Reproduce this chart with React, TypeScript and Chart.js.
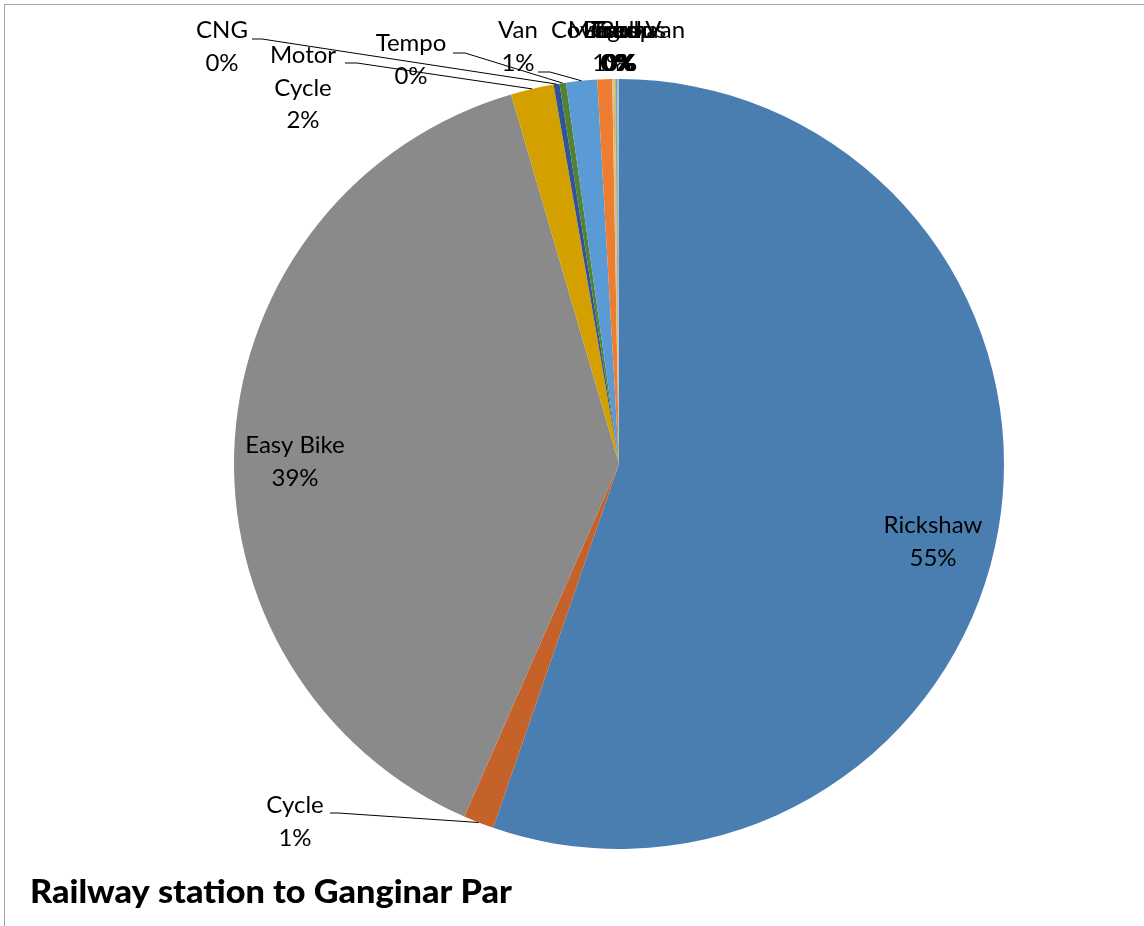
import React, { useEffect, useRef } from "react";
import { Chart, registerables } from "chart.js";

Chart.register(...registerables);

const categories = [
  "Rickshaw", "Cycle", "Easy Bike", "Motor Cycle", "CNG", "Tempo", "Van",
  "Car", "Microbus", "Pickup", "Bus", "Truck", "Leguna", "Covered Van",
];
const shares = [55.3, 1.28, 38.9, 1.8, 0.25, 0.27, 1.3, 0.62, 0.05, 0.04, 0.04, 0.04, 0.03, 0.08];
const sliceColors = [
  "#4A7EB1", "#C5622A", "#8A8A8A", "#D4A000", "#2F5597", "#548235", "#5B9BD5",
  "#ED7D31", "#EDB58A", "#A5A5A5", "#FFC000", "#70AD47", "#4472C4", "#A9BCE0",
];
const titleText = "Railway station to Ganginar Par";

// label layout (styling only): mode, offsets relative to pie centre / slice edge
type Lay = { mode: "center" | "top"; dx: number; dy: number; wrap?: boolean; lead?: [number, number, number] };
const labelLayout: Lay[] = [
  { mode: "center", dx: 314, dy: 78 },
  { mode: "center", dx: -324, dy: 358, lead: [35, -9, 8] },
  { mode: "center", dx: -324, dy: -2 },
  { mode: "center", dx: -316, dy: -376, wrap: true, lead: [42, -25, 12] },
  { mode: "center", dx: -397, dy: -417, lead: [30, -8, 10] },
  { mode: "center", dx: -208, dy: -404, lead: [42, -7, 12] },
  { mode: "center", dx: -101, dy: -417, lead: [20, 25, 12] },
  { mode: "top", dx: 4, dy: -417 },
  { mode: "top", dx: 4, dy: -417 },
  { mode: "top", dx: 4, dy: -417 },
  { mode: "top", dx: 4, dy: -417 },
  { mode: "top", dx: 4, dy: -417 },
  { mode: "top", dx: 4, dy: -417 },
  { mode: "top", dx: 0, dy: -417 },
];

const framePlugin = {
  id: "frame",
  beforeDraw(chart: any) {
    const ctx = chart.ctx;
    ctx.save();
    ctx.fillStyle = "#FFFFFF";
    ctx.fillRect(0, 0, chart.width, chart.height);
    ctx.strokeStyle = "#A6A6A6";
    ctx.lineWidth = 1;
    ctx.strokeRect(4.5, 4.5, chart.width + 20, chart.height + 20);
    ctx.restore();
  },
};

const labelPlugin = {
  id: "sliceLabels",
  afterDatasetsDraw(chart: any) {
    const ctx = chart.ctx;
    const meta = chart.getDatasetMeta(0);
    const values = chart.data.datasets[0].data as number[];
    const total = values.reduce((a, b) => a + b, 0);
    const lh = 32.5;
    ctx.save();
    ctx.font = "24px Lato";
    ctx.fillStyle = "#000000";
    ctx.strokeStyle = "#000000";
    ctx.lineWidth = 1;
    ctx.textAlign = "center";
    ctx.textBaseline = "middle";
    meta.data.forEach((arc: any, i: number) => {
      const p = arc.getProps(["x", "y", "startAngle", "endAngle", "outerRadius"], true);
      const mid = (p.startAngle + p.endAngle) / 2;
      const ex = p.x + Math.cos(mid) * p.outerRadius;
      const ey = p.y + Math.sin(mid) * p.outerRadius;
      const lay = labelLayout[i];
      const pct = Math.round((values[i] / total) * 100) + "%";
      const name = chart.data.labels[i] as string;
      const lines = lay.wrap ? [...name.split(" "), pct] : [name, pct];
      const cx = lay.mode === "top" ? ex + lay.dx : p.x + lay.dx;
      const cy = p.y + lay.dy;
      const top = cy - ((lines.length - 1) * lh) / 2;
      lines.forEach((t, k) => ctx.fillText(t, cx, top + k * lh));
      if (lay.lead) {
        const sx = cx + lay.lead[0];
        const sy = cy + lay.lead[1];
        ctx.beginPath();
        ctx.moveTo(sx, sy);
        ctx.lineTo(sx + lay.lead[2], sy);
        ctx.lineTo(ex, ey);
        ctx.stroke();
      }
    });
    ctx.restore();
  },
  afterDraw(chart: any) {
    const ctx = chart.ctx;
    ctx.save();
    ctx.font = "900 32px Lato";
    ctx.fillStyle = "#000000";
    ctx.textAlign = "left";
    ctx.textBaseline = "alphabetic";
    const w = ctx.measureText(titleText).width;
    const target = 482;
    ctx.translate(30, 903);
    ctx.scale(target / w, 1);
    ctx.fillText(titleText, 0, 0);
    ctx.restore();
  },
};

export default function App() {
  const ref = useRef<HTMLCanvasElement | null>(null);
  useEffect(() => {
    if (!ref.current) return;
    const chart = new Chart(ref.current, {
      type: "pie",
      data: {
        labels: categories,
        datasets: [
          {
            data: shares,
            backgroundColor: sliceColors,
            borderWidth: 0,
          },
        ],
      },
      options: {
        responsive: false,
        animation: false,
        layout: { padding: { top: 79, bottom: 77, left: 94, right: 0 } },
        plugins: {
          legend: { display: false },
          tooltip: { enabled: false },
          title: { display: false },
        },
      },
      plugins: [framePlugin, labelPlugin],
    });
    return () => chart.destroy();
  }, []);
  return (
    <div style={{ position: "fixed", left: 0, top: 0, width: 1144, height: 926 }}>
      <canvas ref={ref} width={1144} height={926} style={{ display: "block" }} />
    </div>
  );
}
